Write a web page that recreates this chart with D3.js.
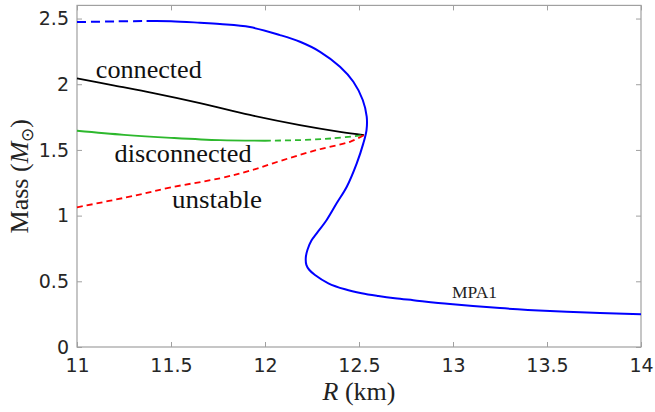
<!DOCTYPE html>
<html>
<head>
<meta charset="utf-8">
<script src="https://cdn.jsdelivr.net/npm/d3@7"></script>
<style>
  body { margin: 0; background: #fff; }
  svg { display: block; }
</style>
</head>
<body>
<svg id="chart"></svg>
<script>
// R (km), Mass (M_sun)
const mpa1Unstable = [[11.0, 2.473], [11.2, 2.478], [11.37, 2.481]];
const mpa1Stable = [
  [11.37, 2.481], [11.5, 2.480], [11.654, 2.468], [11.76, 2.458], [11.92, 2.435],
  [12.08, 2.374], [12.186, 2.323], [12.293, 2.247], [12.399, 2.133], [12.470, 2.019],
  [12.520, 1.880], [12.541, 1.753], [12.540, 1.651], [12.523, 1.550], [12.488, 1.398],
  [12.435, 1.220], [12.381, 1.094], [12.328, 0.967], [12.275, 0.865], [12.247, 0.81],
  [12.226, 0.74], [12.217, 0.68], [12.220, 0.625], [12.235, 0.588], [12.266, 0.548],
  [12.337, 0.485], [12.426, 0.439], [12.514, 0.409], [12.603, 0.388], [12.691, 0.371],
  [12.789, 0.356], [12.984, 0.327], [13.25, 0.296], [13.516, 0.274], [13.782, 0.259],
  [14.0, 0.249]
];
const connected = [[11.0, 2.045], [11.2, 1.99], [11.4, 1.935], [11.654, 1.857], [11.92, 1.766],
  [12.186, 1.689], [12.399, 1.638], [12.527, 1.613]];
const disconnectedStable = [[11.0, 1.646], [11.25, 1.615], [11.5, 1.592], [11.76, 1.574], [12.0, 1.570]];
const disconnectedDashed = [[12.0, 1.570], [12.186, 1.575], [12.36, 1.588], [12.527, 1.613]];
const unstable = [[11.0, 1.063], [11.3, 1.15], [11.5, 1.215], [11.76, 1.284], [11.92, 1.342],
  [12.096, 1.423], [12.275, 1.499], [12.452, 1.562], [12.527, 1.613]];

const xTicks = [11, 11.5, 12, 12.5, 13, 13.5, 14];
const yTicks = [0, 0.5, 1, 1.5, 2, 2.5];

const width = 655, height = 412;
const margin = {top: 5.4, right: 14, bottom: 65, left: 77};
const innerW = width - margin.left - margin.right;
const innerH = height - margin.top - margin.bottom;

const svg = d3.select('#chart').attr('width', width).attr('height', height);
const g = svg.append('g').attr('transform', `translate(${margin.left},${margin.top})`);

const x = d3.scaleLinear().domain([11, 14]).range([0, innerW]);
const y = d3.scaleLinear().domain([0, 2.6]).range([innerH, 0]);

const axisColor = '#a0a0a0';
const tickFont = 'DejaVu Sans';
const serif = 'Liberation Serif';

function styleAxis(sel, showText) {
  sel.select('.domain').remove();
  sel.selectAll('.tick line').attr('stroke', axisColor);
  sel.selectAll('.tick text')
    .attr('fill', '#262626')
    .attr('font-family', tickFont)
    .attr('font-size', 19);
  if (!showText) sel.selectAll('.tick text').remove();
}

// inward ticks, all four sides
g.append('g').attr('transform', `translate(0,${innerH})`)
  .call(d3.axisBottom(x).tickValues(xTicks).tickFormat(d3.format('')).tickSizeInner(-5).tickSizeOuter(0).tickPadding(12))
  .call(s => styleAxis(s, true));
g.append('g')
  .call(d3.axisTop(x).tickValues(xTicks).tickSizeInner(-5).tickSizeOuter(0))
  .call(s => styleAxis(s, false));
g.append('g')
  .call(d3.axisLeft(y).tickValues(yTicks).tickFormat(d3.format('')).tickSizeInner(-5).tickSizeOuter(0).tickPadding(8))
  .call(s => styleAxis(s, true));
g.append('g').attr('transform', `translate(${innerW},0)`)
  .call(d3.axisRight(y).tickValues(yTicks).tickSizeInner(-5).tickSizeOuter(0))
  .call(s => styleAxis(s, false));

g.append('rect')
  .attr('width', innerW).attr('height', innerH)
  .attr('fill', 'none').attr('stroke', axisColor).attr('stroke-width', 1.2);

const line = d3.line()
  .x(d => x(d[0]))
  .y(d => y(d[1]))
  .curve(d3.curveCatmullRom.alpha(0.5));

function drawCurve(data, color, dash, w) {
  g.append('path')
    .datum(data)
    .attr('d', line)
    .attr('fill', 'none')
    .attr('stroke', color)
    .attr('stroke-width', w)
    .attr('stroke-dasharray', dash);
}

drawCurve(connected, '#000000', null, 1.8);
drawCurve(disconnectedStable, '#2db82d', null, 1.8);
drawCurve(disconnectedDashed, '#2db82d', '6,4', 1.8);
drawCurve(unstable, '#ff0000', '6,4', 1.8);
drawCurve(mpa1Unstable, '#0000ff', '9,5', 2);
drawCurve(mpa1Stable, '#0000ff', null, 2);

const labels = [
  {text: 'connected', R: 11.1, M: 2.05, len: 106},
  {text: 'disconnected', R: 11.2, M: 1.408, len: 137},
  {text: 'unstable', R: 11.505, M: 1.06, len: 90}
];
g.selectAll('.lbl')
  .data(labels)
  .enter()
  .append('text')
  .attr('class', 'lbl')
  .attr('x', d => x(d.R))
  .attr('y', d => y(d.M))
  .attr('textLength', d => d.len)
  .attr('lengthAdjust', 'spacingAndGlyphs')
  .attr('font-family', serif)
  .attr('font-size', 25)
  .attr('fill', '#111')
  .text(d => d.text);

g.append('text')
  .attr('x', x(12.995))
  .attr('y', y(0.373))
  .attr('textLength', 45)
  .attr('lengthAdjust', 'spacingAndGlyphs')
  .attr('font-family', serif)
  .attr('font-size', 16)
  .attr('fill', '#222')
  .text('MPA1');

// axis titles
const xt = svg.append('text')
  .attr('x', margin.left + innerW / 2)
  .attr('y', 400)
  .attr('text-anchor', 'middle')
  .attr('font-family', serif)
  .attr('font-size', 26)
  .attr('fill', '#222');
xt.append('tspan').attr('font-style', 'italic').text('R');
xt.append('tspan').text(' (km)');

const yt = svg.append('text')
  .attr('transform', `translate(28,${margin.top + innerH / 2}) rotate(-90)`)
  .attr('text-anchor', 'middle')
  .attr('font-family', serif)
  .attr('font-size', 26)
  .attr('fill', '#222');
yt.append('tspan').text('Mass (');
yt.append('tspan').attr('font-style', 'italic').text('M');
yt.append('tspan').attr('dy', 5).attr('font-size', 17).text('⊙');
yt.append('tspan').attr('dy', -5).text(')');
</script>
</body>
</html>
